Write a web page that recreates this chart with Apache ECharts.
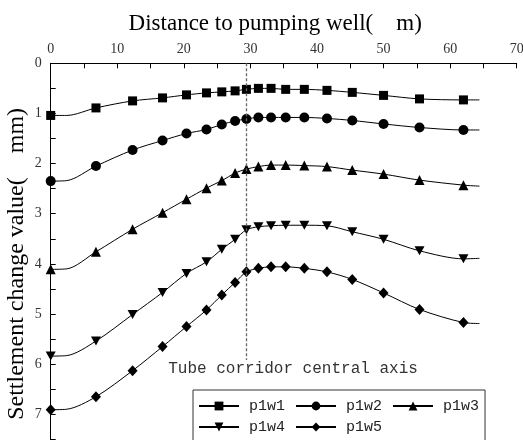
<!DOCTYPE html>
<html>
<head>
<meta charset="utf-8">
<script src="https://cdn.jsdelivr.net/npm/echarts@6/dist/echarts.min.js"></script>
<style>
html,body{margin:0;padding:0;background:#fff;}
#chart{width:523px;height:440px;}
</style>
</head>
<body>
<div id="chart"></div>
<script>
// ---- data ----
const xPositions = [0, 6.8, 12.3, 16.8, 20.4, 23.4, 25.7, 27.7, 29.4, 31.2, 33.1, 35.3, 38.1, 41.5, 45.3, 50.0, 55.4, 62.0];
const lineStartX = 2.4;   // flat start of the fitted curves
const lineEndX = 64.4;    // where the fitted curves end
const p1w1 = [1.04, 0.89, 0.75, 0.69, 0.63, 0.59, 0.57, 0.55, 0.52, 0.50, 0.50, 0.52, 0.52, 0.54, 0.58, 0.64, 0.71, 0.73];
const p1w2 = [2.35, 2.05, 1.73, 1.54, 1.40, 1.32, 1.22, 1.15, 1.11, 1.08, 1.08, 1.08, 1.08, 1.10, 1.14, 1.21, 1.28, 1.33];
const p1w3 = [4.11, 3.76, 3.31, 2.98, 2.71, 2.49, 2.34, 2.19, 2.11, 2.06, 2.03, 2.03, 2.04, 2.06, 2.13, 2.21, 2.33, 2.43];
const p1w4 = [5.84, 5.54, 5.01, 4.57, 4.19, 3.96, 3.71, 3.51, 3.32, 3.26, 3.24, 3.23, 3.23, 3.24, 3.36, 3.51, 3.74, 3.90];
const p1w5 = [6.91, 6.65, 6.13, 5.65, 5.25, 4.92, 4.62, 4.37, 4.16, 4.09, 4.06, 4.06, 4.09, 4.16, 4.31, 4.58, 4.91, 5.17];
const startValues = [1.04, 2.34, 4.10, 5.83, 6.90];
const endValues = [0.73, 1.33, 2.45, 3.89, 5.19];
const seriesNames = ['p1w1', 'p1w2', 'p1w3', 'p1w4', 'p1w5'];
const seriesValues = [p1w1, p1w2, p1w3, p1w4, p1w5];
const xTicks = [0, 10, 20, 30, 40, 50, 60, 70];
const yTicks = [0, 1, 2, 3, 4, 5, 6, 7, 8];
const centralAxisX = 29.4;
const centralAxisBottom = 5.92;
const annotationPos = [36.4, 6.1];
const annotationText = 'Tube corridor central axis';
const xTitle = 'Distance to pumping well(    m)';
const yTitle = 'Settlement change value(    mm)';

const symbols = ['rect', 'circle', 'triangle', 'path://M0,0 L10,0 L5,9 Z', 'diamond'];
const symbolSizes = [9, 10, 10, [10, 9], [10, 11]];

const serif = '"Liberation Serif", "Times New Roman", serif';
const mono = '"Liberation Mono", "DejaVu Sans Mono", monospace';

function buildData(vals, i) {
  const d = [];
  vals.forEach((v, k) => {
    d.push([xPositions[k], v]);
    if (k === 0) d.push({ value: [lineStartX, startValues[i]], symbol: 'none' });
  });
  d.push({ value: [lineEndX, endValues[i]], symbol: 'none' });
  return d;
}

const series = seriesNames.map((name, i) => {
  const s = {
    name: name,
    type: 'line',
    data: buildData(seriesValues[i], i),
    smooth: 0.3,
    symbol: symbols[i],
    symbolSize: symbolSizes[i],
    showAllSymbol: true,
    lineStyle: { color: '#000', width: 1 },
    itemStyle: { color: '#000' },
    z: 3
  };
  if (i === 0) {
    s.markLine = {
      silent: true,
      symbol: 'none',
      label: { show: false },
      lineStyle: { type: [3, 2], color: '#666', width: 1.3 },
      data: [[{ coord: [centralAxisX, yTicks[0]] }, { coord: [centralAxisX, centralAxisBottom] }]]
    };
    s.markPoint = {
      silent: true,
      symbol: 'rect',
      symbolSize: 1,
      itemStyle: { color: 'rgba(0,0,0,0)' },
      label: {
        show: true, position: 'inside', formatter: annotationText,
        fontFamily: mono, fontSize: 16, color: '#333'
      },
      data: [{ coord: annotationPos }]
    };
  }
  return s;
});

const chart = echarts.init(document.getElementById('chart'), null, { renderer: 'canvas' });
chart.setOption({
  animation: false,
  backgroundColor: '#fff',
  grid: { left: 50.7, top: 63.3, right: 6.3, bottom: -24.4, containLabel: false, outerBoundsMode: 'none' },
  xAxis: {
    type: 'value', position: 'top',
    min: xTicks[0], max: xTicks[xTicks.length - 1], interval: 10,
    name: xTitle, nameLocation: 'middle', nameGap: 28,
    nameTextStyle: { fontFamily: serif, fontSize: 23, color: '#000', padding: [0, 17, 0, 0] },
    axisLine: { onZero: false, lineStyle: { color: '#000', width: 1 } },
    axisTick: { inside: true, length: 5, lineStyle: { color: '#000' } },
    minorTick: { show: true, splitNumber: 2, length: 5, lineStyle: { color: '#000' } },
    axisLabel: { fontFamily: serif, fontSize: 14, color: '#333', margin: 7 },
    splitLine: { show: false }
  },
  yAxis: {
    type: 'value', inverse: true,
    min: yTicks[0], max: yTicks[yTicks.length - 1], interval: 1,
    name: yTitle, nameLocation: 'middle', nameGap: 22, nameMoveOverlap: false,
    nameTextStyle: { fontFamily: serif, fontSize: 24, color: '#000' },
    axisLine: { onZero: false, lineStyle: { color: '#000', width: 1 } },
    axisTick: { inside: true, length: 5, lineStyle: { color: '#000' } },
    minorTick: { show: true, splitNumber: 2, length: 5, lineStyle: { color: '#000' } },
    axisLabel: { fontFamily: serif, fontSize: 14, color: '#333', margin: 9 },
    splitLine: { show: false }
  },
  legend: {
    data: seriesNames,
    left: 193, top: 390, width: 300,
    orient: 'horizontal',
    padding: [7.5, 0, 12, 5],
    borderColor: '#333', borderWidth: 1,
    itemWidth: 40, itemHeight: 11, itemGap: 4,
    selectedMode: false,
    textStyle: { fontFamily: mono, fontSize: 15, color: '#222', lineHeight: 17, padding: [0, 6, 0, 5] }
  },
  series: series
});
</script>
</body>
</html>
